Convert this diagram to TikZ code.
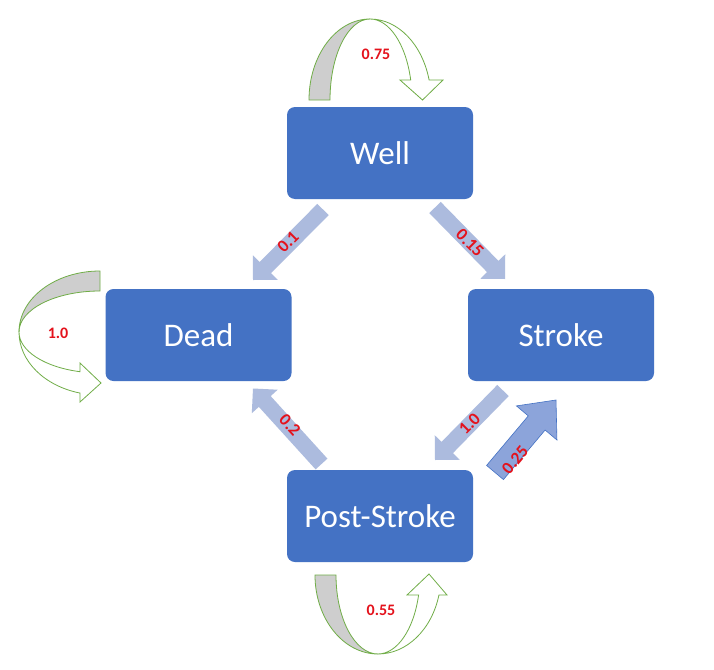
\documentclass[tikz,border=0pt]{standalone}
\usepackage{fontspec}
\setmainfont{Carlito}
\usetikzlibrary{calc}
\definecolor{boxblue}{RGB}{68,114,196}
\definecolor{arrlight}{RGB}{172,187,222}
\definecolor{arrdark}{RGB}{140,164,218}
\definecolor{loopgreen}{RGB}{112,173,71}
\definecolor{loopgrey}{RGB}{206,206,206}
\definecolor{lblred}{RGB}{228,18,28}
\newcommand\blkarrow[6]{%
  \path (#1) coordinate (tmpT) (#2) coordinate (tmpP);
  \path ($(tmpP)!#5!(tmpT)$) coordinate (tmpH);
  \filldraw[#6] ($(tmpT)!#3!90:(tmpP)$) -- ($(tmpH)!#3!90:(tmpP)$) -- ($(tmpH)!#4!90:(tmpP)$)
    -- (tmpP) -- ($(tmpH)!#4!-90:(tmpP)$) -- ($(tmpH)!#3!-90:(tmpP)$) -- ($(tmpT)!#3!-90:(tmpP)$) -- cycle;
}
\begin{document}
\begin{tikzpicture}[x=1pt,y=-1pt,
  box/.style={fill=boxblue, draw=none, rounded corners=8pt, minimum width=186pt, minimum height=92pt,
    text=white, font=\fontsize{33}{36}\selectfont, inner sep=0pt},
  lbl/.style={text=lblred, font=\bfseries\fontsize{16}{17}\selectfont, inner sep=0pt},
  albl/.style={text=lblred, font=\bfseries\fontsize{17.5}{18}\selectfont, inner sep=0pt},
  lightarr/.style={fill=arrlight, draw=none},
  darkarr/.style={fill=arrdark, draw=boxblue, line width=0.6pt, line join=miter},
  loopback/.style={fill=loopgrey, draw=loopgreen, line width=0.8pt, line join=miter},
  loopfront/.style={fill=white, draw=loopgreen, line width=0.8pt, line join=miter}]
\useasboundingbox (0,0) rectangle (714,669);
\fill[white] (0,0) rectangle (714,669);

% boxes
\node[box] (well) at (380,153) {Well};
\node[box] (dead) at (198.5,335) {Dead};
\node[box] (stroke) at (561,335) {Stroke};
\node[box] (post) at (380,516) {Post-Stroke};

% block arrow end points
\coordinate (wd-t) at (323,209.5);  \coordinate (wd-h) at (253,280);
\coordinate (ws-t) at (435,207.5);  \coordinate (ws-h) at (505,279);
\coordinate (sp-t) at (503,390.5);  \coordinate (sp-h) at (435,460);
\coordinate (pd-t) at (321.5,464);  \coordinate (pd-h) at (253,388.5);
\coordinate (ps-t) at (495,472.5);  \coordinate (ps-h) at (556,400);

\blkarrow{wd-t}{wd-h}{8pt}{17.5pt}{17.5pt}{lightarr}
\blkarrow{ws-t}{ws-h}{8pt}{17.5pt}{17.5pt}{lightarr}
\blkarrow{sp-t}{sp-h}{8pt}{17.5pt}{17.5pt}{lightarr}
\blkarrow{pd-t}{pd-h}{8pt}{17.5pt}{17.5pt}{lightarr}
\blkarrow{ps-t}{ps-h}{11pt}{26.5pt}{30pt}{darkarr}

\node[albl, rotate=45] (l-wd) at (288,242) {0.1};
\node[albl, rotate=-45] (l-ws) at (470,243) {0.15};
\node[albl, rotate=45] (l-sp) at (469.5,424) {1.0};
\node[albl, rotate=-47] (l-pd) at (290,425) {0.2};
\node[albl, rotate=50] (l-ps) at (515,460) {0.25};

% self loop on Well
\filldraw[loopback] (309,100) arc[start angle=180,end angle=270,x radius=61,y radius=81]
  arc[start angle=270,end angle=180,x radius=40,y radius=81] -- cycle;
\filldraw[loopfront] (370,19) arc[start angle=270,end angle=345.7,x radius=61,y radius=81]
  -- (443,80) -- (422.5,100) -- (400,80) -- (410.7,80)
  arc[start angle=345.7,end angle=270,x radius=42,y radius=81] -- cycle;
\node[lbl] (l-ww) at (376,54) {0.75};

% self loop on Post-Stroke
\filldraw[loopback] (315,575) arc[start angle=180,end angle=90,x radius=63,y radius=79]
  arc[start angle=90,end angle=180,x radius=42,y radius=79] -- cycle;
\filldraw[loopfront] (378,654) arc[start angle=90,end angle=14.7,x radius=63,y radius=79]
  -- (447,595) -- (429,574) -- (407,595) -- (418.6,595)
  arc[start angle=14.7,end angle=90,x radius=42,y radius=79] -- cycle;
\node[lbl] (l-pp) at (381,610) {0.55};

% self loop on Dead
\filldraw[loopback] (100,271) arc[start angle=270,end angle=180,x radius=81,y radius=61]
  arc[start angle=180,end angle=270,x radius=81,y radius=41] -- cycle;
\filldraw[loopfront] (19,332) arc[start angle=180,end angle=104.3,x radius=81,y radius=63]
  -- (80,402) -- (101,383) -- (80,363) -- (80,371.7)
  arc[start angle=104.3,end angle=180,x radius=81,y radius=41] -- cycle;
\node[lbl] (l-dd) at (58,333) {1.0};
\end{tikzpicture}
\end{document}
